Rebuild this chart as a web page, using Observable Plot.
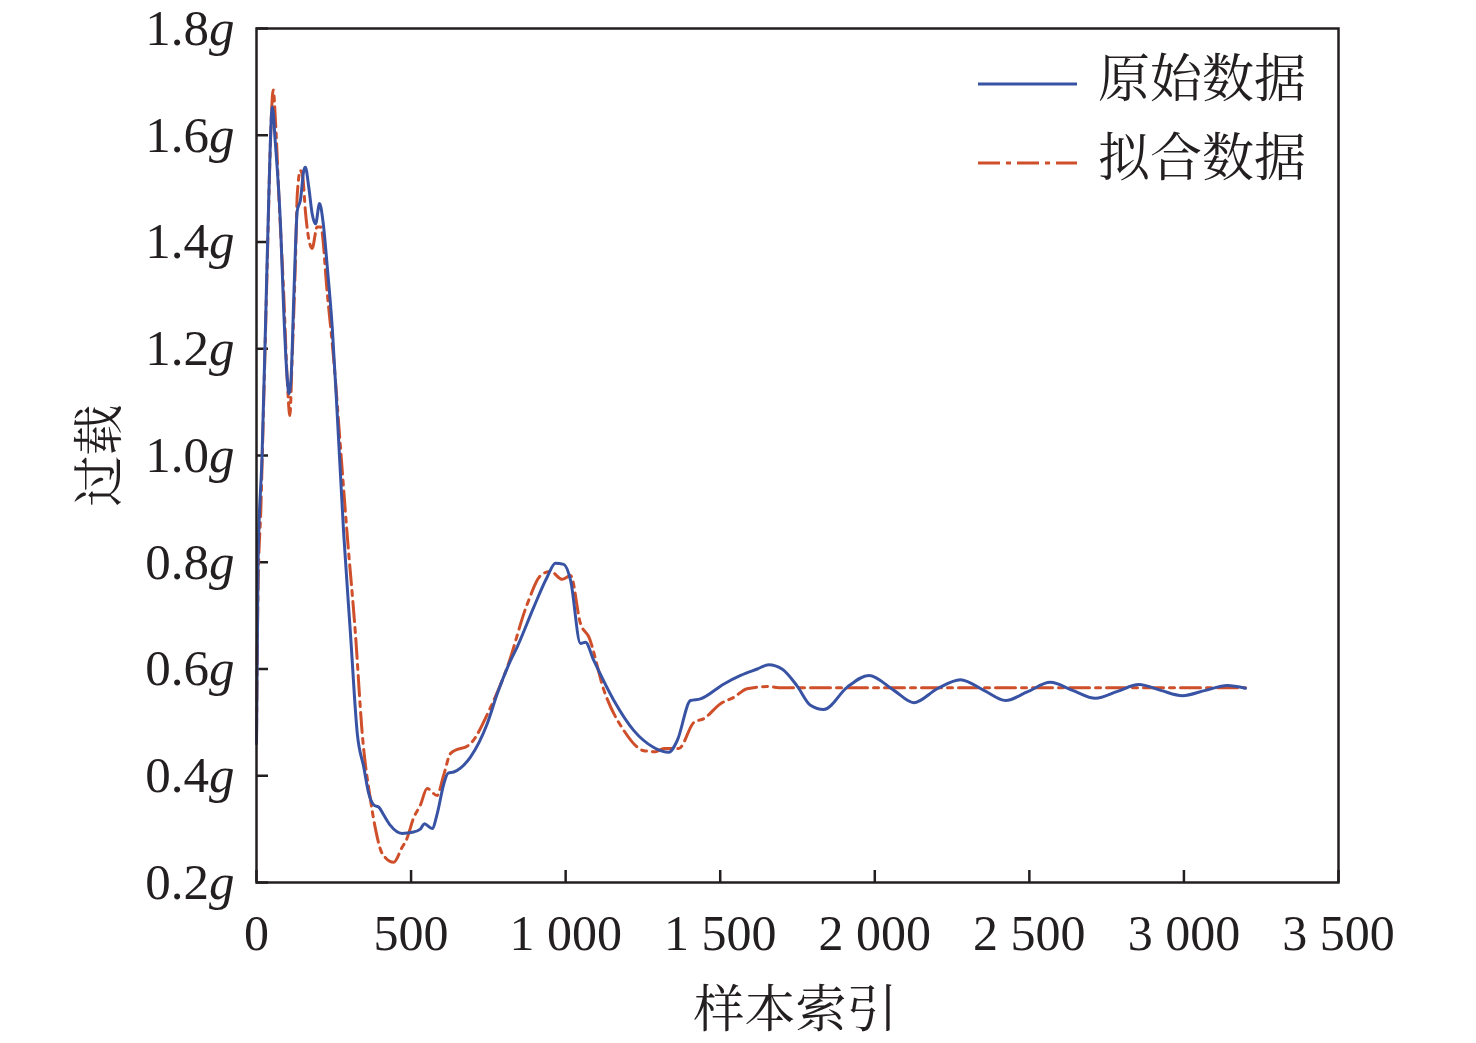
<!DOCTYPE html>
<html>
<head>
<meta charset="utf-8">
<script src="https://cdn.jsdelivr.net/npm/d3@7"></script>
<script src="https://cdn.jsdelivr.net/npm/@observablehq/plot@0.6"></script>
<style>
  html, body { margin: 0; padding: 0; background: #fff; }
  #wrap { position: relative; width: 1476px; height: 1043px; }
  #legend { position: absolute; left: 0; top: 0; pointer-events: none; }
</style>
</head>
<body>
<div id="wrap"></div>
<script>
// ---- data ----
const seriesNames = ["原始数据", "拟合数据"];
const xTicks = [0, 500, 1000, 1500, 2000, 2500, 3000, 3500];
const yTicks = [0.2, 0.4, 0.6, 0.8, 1.0, 1.2, 1.4, 1.6, 1.8];

const rawX = [0, 5, 18, 29, 40, 51, 61, 78, 88, 99, 105, 112, 121, 132, 142, 153, 158, 169, 180, 191, 204, 216, 229, 245, 261, 282, 304, 326, 347, 363, 380, 396, 412, 433, 471, 504, 530, 543, 568, 585, 606, 620, 638, 692, 746, 779, 822, 843, 897, 940, 967, 994, 1016, 1048, 1064, 1091, 1156, 1220, 1285, 1334, 1361, 1404, 1436, 1512, 1566, 1620, 1657, 1700, 1749, 1792, 1835, 1911, 1981, 2062, 2126, 2202, 2277, 2353, 2423, 2493, 2568, 2640, 2714, 2785, 2854, 2925, 2995, 3070, 3140, 3199];
const rawY = [0.46, 0.80, 1.00, 1.24, 1.49, 1.653, 1.585, 1.428, 1.272, 1.147, 1.116, 1.147, 1.303, 1.459, 1.478, 1.534, 1.540, 1.503, 1.453, 1.434, 1.472, 1.434, 1.353, 1.24, 1.079, 0.854, 0.666, 0.479, 0.416, 0.367, 0.345, 0.341, 0.326, 0.307, 0.292, 0.294, 0.300, 0.310, 0.301, 0.33, 0.385, 0.405, 0.407, 0.435, 0.497, 0.554, 0.616, 0.641, 0.716, 0.772, 0.798, 0.796, 0.766, 0.648, 0.650, 0.616, 0.541, 0.485, 0.453, 0.444, 0.466, 0.541, 0.544, 0.572, 0.588, 0.600, 0.608, 0.600, 0.568, 0.532, 0.524, 0.566, 0.588, 0.560, 0.537, 0.563, 0.580, 0.560, 0.541, 0.557, 0.575, 0.560, 0.545, 0.558, 0.571, 0.560, 0.550, 0.560, 0.569, 0.564];

const fitX = [0, 5, 14, 24, 35, 45, 54, 62, 72, 88, 99, 108, 115, 126, 132, 142, 150, 158, 180, 196, 208, 229, 250, 274, 293, 320, 342, 369, 385, 407, 444, 471, 485, 509, 530, 552, 584, 605, 628, 692, 757, 811, 876, 919, 951, 989, 1016, 1048, 1075, 1124, 1188, 1253, 1290, 1318, 1366, 1415, 1447, 1501, 1544, 1587, 1652, 1700, 2000, 2500, 3000, 3199];
const fitY = [0.47, 0.75, 0.90, 1.116, 1.365, 1.585, 1.685, 1.62, 1.49, 1.303, 1.147, 1.075, 1.178, 1.365, 1.49, 1.534, 1.52, 1.459, 1.388, 1.428, 1.428, 1.303, 1.178, 0.997, 0.854, 0.666, 0.479, 0.354, 0.30, 0.254, 0.238, 0.266, 0.28, 0.322, 0.345, 0.376, 0.363, 0.40, 0.442, 0.460, 0.528, 0.603, 0.722, 0.775, 0.783, 0.768, 0.775, 0.685, 0.660, 0.560, 0.485, 0.447, 0.445, 0.451, 0.451, 0.500, 0.507, 0.535, 0.547, 0.563, 0.567, 0.565, 0.565, 0.565, 0.565, 0.565];

const colors = ["#3953a4", "#cf4f2b"];
const dash = "20,6,5,6";

const raw = rawX.map((x, i) => ({x, y: rawY[i]}));
const fit = fitX.map((x, i) => ({x, y: fitY[i]}));

const W = 1476, H = 1043;
const mL = 256, mR = 138, mT = 28, mB = 161;
const pw = W - mL - mR, ph = H - mT - mB;
const serif = "'Liberation Serif', 'DejaVu Serif', serif";
const cjk = "'Noto Serif CJK SC', 'Noto Sans CJK SC', sans-serif";

const chart = Plot.plot({
  width: W, height: H,
  marginLeft: mL, marginRight: mR, marginTop: mT, marginBottom: mB,
  style: {fontFamily: serif, fontSize: "50px", color: "#231f20", background: "#fff", overflow: "visible"},
  x: {domain: [0, 3500], ticks: xTicks, label: null},
  y: {domain: [0.2, 1.8], ticks: yTicks, label: null},
  marks: [
    Plot.axisX({ticks: xTicks, tickSize: 0, tickPadding: 32, fontSize: 50, fill: "#231f20",
      tickFormat: d => d3.format(",")(d).replace(/,/g, " "), label: null}),
    Plot.axisY({ticks: yTicks, tickSize: 0, tickPadding: 22, fontSize: 51, fill: "#231f20",
      tickFormat: d => d.toFixed(1) + "g", label: null}),
    Plot.tickX(xTicks, {x: d => d, insetTop: ph - 12, stroke: "#231f20", strokeWidth: 2.5}),
    Plot.tickY(yTicks, {y: d => d, insetRight: pw - 12, stroke: "#231f20", strokeWidth: 2.5}),
    Plot.line(fit, {x: "x", y: "y", stroke: colors[1], strokeWidth: 3, strokeDasharray: dash, curve: "monotone-x"}),
    Plot.line(raw, {x: "x", y: "y", stroke: colors[0], strokeWidth: 3, curve: "monotone-x"}),
    Plot.frame({stroke: "#231f20", strokeWidth: 2.5}),
    Plot.text(["样本索引"], {frameAnchor: "bottom", textAnchor: "middle", dx: -2, dy: 128, lineAnchor: "middle", fontSize: 51, fontFamily: cjk, fill: "#231f20"}),
    Plot.text(["过载"], {frameAnchor: "left", textAnchor: "middle", lineAnchor: "middle", dx: -156, rotate: -90, fontSize: 51, fontFamily: cjk, fill: "#231f20"})
  ]
});

// italic "g" in y tick labels
chart.querySelectorAll('g[aria-label="y-axis tick label"] text').forEach(t => {
  const s = t.textContent;
  if (s.endsWith("g")) {
    t.textContent = "";
    const ns = "http://www.w3.org/2000/svg";
    const a = document.createElementNS(ns, "tspan"); a.textContent = s.slice(0, -1);
    const b = document.createElementNS(ns, "tspan"); b.textContent = "g"; b.setAttribute("font-style", "italic");
    t.appendChild(a); t.appendChild(b);
  }
});

const wrap = document.getElementById("wrap");
wrap.appendChild(chart);

// legend overlay
const leg = d3.create("svg").attr("id", "legend").attr("width", W).attr("height", H);
const legY = [84, 163];
seriesNames.forEach((name, i) => {
  leg.append("line").attr("x1", 978).attr("x2", 1077).attr("y1", legY[i]).attr("y2", legY[i])
    .attr("stroke", colors[i]).attr("stroke-width", 3)
    .attr("stroke-dasharray", i === 1 ? "22,6,5,6" : null);
  leg.append("text").attr("x", 1098).attr("y", legY[i] - 6).attr("dy", "0.36em")
    .attr("font-family", cjk).attr("font-size", 52).attr("fill", "#231f20").text(name);
});
wrap.appendChild(leg.node());
</script>
</body>
</html>
